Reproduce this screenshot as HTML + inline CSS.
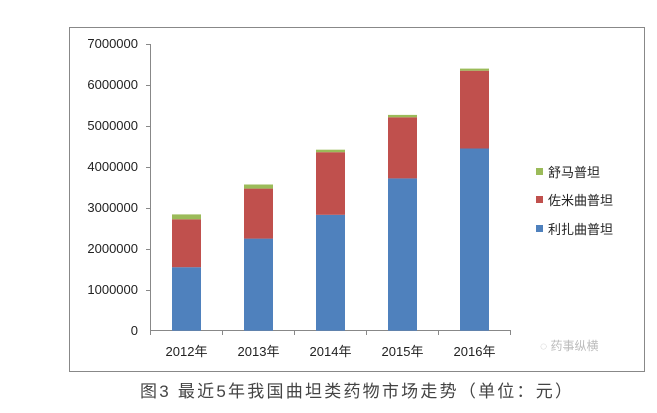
<!DOCTYPE html>
<html><head><meta charset="utf-8"><style>
body{margin:0;background:#fff;width:657px;height:413px;overflow:hidden}
svg{display:block}
text{font-family:"Liberation Sans","Noto Sans CJK SC",sans-serif}
</style></head><body>
<svg width="657" height="413" xmlns="http://www.w3.org/2000/svg">
<rect x="69.5" y="27.5" width="575" height="344" fill="#fff" stroke="#888" stroke-width="1"/>
<g font-size="13" fill="#222" text-anchor="end">
<text x="138" y="335">0</text>
<text x="138" y="294">1000000</text>
<text x="138" y="253">2000000</text>
<text x="138" y="212">3000000</text>
<text x="138" y="171">4000000</text>
<text x="138" y="130">5000000</text>
<text x="138" y="89">6000000</text>
<text x="138" y="48">7000000</text>
</g>
<g stroke="#888" stroke-width="1">
<line x1="150.5" y1="44" x2="150.5" y2="331"/>
<line x1="150" y1="330.5" x2="511" y2="330.5"/>
<line x1="146" y1="44.5" x2="150" y2="44.5"/><line x1="146" y1="85.5" x2="150" y2="85.5"/>
<line x1="146" y1="126.5" x2="150" y2="126.5"/><line x1="146" y1="167.5" x2="150" y2="167.5"/>
<line x1="146" y1="208.5" x2="150" y2="208.5"/><line x1="146" y1="249.5" x2="150" y2="249.5"/>
<line x1="146" y1="290.5" x2="150" y2="290.5"/>
<line x1="150.5" y1="330" x2="150.5" y2="335"/><line x1="222.5" y1="330" x2="222.5" y2="335"/>
<line x1="294.5" y1="330" x2="294.5" y2="335"/><line x1="366.5" y1="330" x2="366.5" y2="335"/>
<line x1="438.5" y1="330" x2="438.5" y2="335"/><line x1="510.5" y1="330" x2="510.5" y2="335"/>
</g>
<g>
<rect x="172" y="267.2" width="29" height="63.5" fill="#4f81bd"/>
<rect x="172" y="219.3" width="29" height="47.9" fill="#c0504d"/>
<rect x="172" y="214.4" width="29" height="4.9" fill="#9bbb59"/>
<rect x="244" y="238.6" width="29" height="92.1" fill="#4f81bd"/>
<rect x="244" y="188.6" width="29" height="50" fill="#c0504d"/>
<rect x="244" y="184.5" width="29" height="4.1" fill="#9bbb59"/>
<rect x="316" y="214.8" width="29" height="115.9" fill="#4f81bd"/>
<rect x="316" y="152.2" width="29" height="62.6" fill="#c0504d"/>
<rect x="316" y="149.7" width="29" height="2.5" fill="#9bbb59"/>
<rect x="388" y="178.4" width="29" height="152.3" fill="#4f81bd"/>
<rect x="388" y="117.3" width="29" height="61.1" fill="#c0504d"/>
<rect x="388" y="114.9" width="29" height="2.4" fill="#9bbb59"/>
<rect x="460" y="148.5" width="29" height="182.2" fill="#4f81bd"/>
<rect x="460" y="70.7" width="29" height="77.8" fill="#c0504d"/>
<rect x="460" y="68.6" width="29" height="2.1" fill="#9bbb59"/>
</g>
<g font-size="13" fill="#222" text-anchor="middle">
<text x="186.5" y="356">2012年</text>
<text x="258.5" y="356">2013年</text>
<text x="330.5" y="356">2014年</text>
<text x="402.5" y="356">2015年</text>
<text x="474.5" y="356">2016年</text>
</g>
<g font-size="13" fill="#222">
<rect x="536" y="168" width="7" height="7" fill="#9bbb59"/><text x="548" y="177">舒马普坦</text>
<rect x="536" y="196" width="7" height="7" fill="#c0504d"/><text x="548" y="205">佐米曲普坦</text>
<rect x="536" y="225" width="7" height="7" fill="#4f81bd"/><text x="548" y="234">利扎曲普坦</text>
</g>
<text x="540" y="350" font-size="12" fill="#bbb">◌ 药事纵横</text>
<text x="140" y="397" font-size="17" fill="#444" textLength="432" lengthAdjust="spacing">图3 最近5年我国曲坦类药物市场走势（单位：元）</text>
</svg>
</body></html>
